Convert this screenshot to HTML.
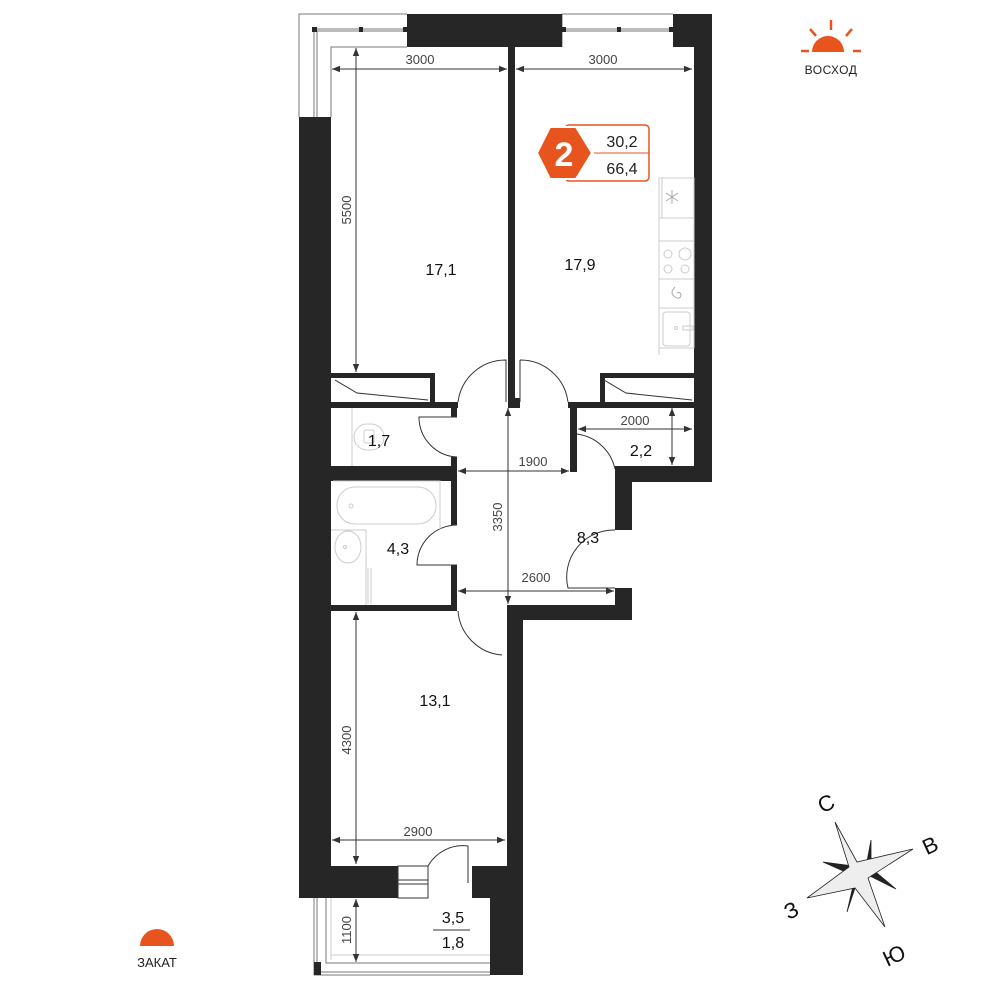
<!DOCTYPE html>
<html><head><meta charset="utf-8"><style>
html,body{margin:0;padding:0;background:#fff}
svg{display:block}
text{font-family:"Liberation Sans",sans-serif}
</style></head><body>
<svg width="991" height="991" viewBox="0 0 991 991" xmlns="http://www.w3.org/2000/svg">
<defs>
<marker id="a" viewBox="0 0 10 10" refX="10" refY="5" markerWidth="8" markerHeight="8" orient="auto-start-reverse"><path d="M0,1 L10,5 L0,9 z" fill="#333"/></marker>
</defs>
<!-- top balcony frames -->
<g fill="none" stroke="#777" stroke-width="1">
<path d="M299,117 V14 H407"/>
<path d="M314,29 H407 M314,29 V117 M317,31 H407 M317,31 V117 M331,117 V47 H407"/>
<path d="M562,47 V14 H673 M562,29 H673 M562,31 H673"/>
<!-- bottom balcony -->
<path d="M314,898 V975 H490 M317,898 V972 H490 M326,898 V963 H490"/>
</g>
<!-- walls -->
<g fill="#262626">
<rect x="407" y="14" width="155" height="33"/>
<rect x="673" y="14" width="39" height="33"/>
<rect x="694" y="14" width="18" height="468"/>
<rect x="299" y="117" width="32" height="781"/>
<rect x="299" y="866" width="99" height="32"/>
<rect x="472" y="866" width="51" height="32"/>
<rect x="490" y="866" width="33" height="109"/>
<rect x="314" y="962" width="7" height="13"/>
<rect x="508" y="47" width="7" height="361"/>
<rect x="515" y="398" width="5" height="10"/>
<rect x="331" y="402" width="127" height="6"/>
<rect x="568" y="402" width="126" height="6"/>
<rect x="331" y="373" width="104" height="5"/>
<rect x="430" y="373" width="5" height="29"/>
<rect x="600" y="373" width="5" height="29"/>
<rect x="600" y="373" width="94" height="5"/>
<rect x="451" y="408" width="6" height="9"/>
<rect x="451" y="457" width="6" height="24"/>
<rect x="331" y="466" width="126" height="15"/>
<rect x="451" y="481" width="6" height="44"/>
<rect x="451" y="565" width="6" height="46"/>
<rect x="331" y="605" width="126" height="6"/>
<rect x="570" y="407" width="7" height="65"/>
<rect x="615" y="466" width="97" height="16"/>
<rect x="615" y="466" width="17" height="64"/>
<rect x="615" y="588" width="17" height="32"/>
<rect x="508" y="605" width="124" height="15"/>
<rect x="507" y="605" width="16" height="261"/>
</g>
<g fill="#262626"><rect x="312" y="27" width="5" height="5"/><rect x="359" y="27" width="4" height="5"/><rect x="403" y="27" width="4" height="5"/><rect x="562" y="27" width="4" height="5"/><rect x="617" y="27" width="4" height="5"/><rect x="669" y="27" width="4" height="5"/></g>
<g fill="none" stroke="#333" stroke-width="1">
<path d="M335,380 L357,393 L428,400 M604,380 L626,393 L692,400"/>
<path d="M458,402 A48,48 0 0 1 506,360 V402"/>
<path d="M520,360 A48,48 0 0 1 568,402 M520,360 V402"/>
<path d="M457,417 H419 A40,40 0 0 0 457,457"/>
<path d="M457,565 H417 A40,40 0 0 1 457,525"/>
<path d="M577,434 A45,45 0 0 1 615,469"/>
<path d="M615,530 A47,47 0 0 0 568,588 H615"/>
<path d="M458,611 A48,48 0 0 0 502,655"/>
<path d="M428,866 A40,40 0 0 1 468,846 V883"/>
<rect x="398" y="866" width="30" height="32"/>
<path d="M398,880 H428 M398,884 H428"/>
</g>
<g fill="none" stroke="#ccc" stroke-width="1">
<rect x="659" y="178" width="35" height="170"/>
<path d="M662,178 V218 M659,218 H694 M659,241 H694 M659,279 H694 M659,308 H694 M659,348 V355"/>
<circle cx="668" cy="254" r="4"/><circle cx="685" cy="254" r="6"/><circle cx="668" cy="269" r="4"/><circle cx="685" cy="269" r="4"/>
<rect x="663" y="312" width="27" height="34" rx="3"/><circle cx="676" cy="328" r="1.5"/><rect x="683" y="326" width="10" height="4"/>
<path d="M672,190 V204 M666,193 L678,201 M678,193 L666,201" stroke="#aaa"/>
<path d="M675,287 q-6,6 0,10 q5,3 6,-2 q-1,-4 -4,-2" stroke="#aaa"/>
<path d="M352,408 V466"/>
<rect x="354" y="424" width="30" height="26" rx="13"/><rect x="364" y="430" width="10" height="13" rx="2"/>
<rect x="337" y="487" width="99" height="37" rx="18"/><circle cx="351" cy="506" r="2"/>
<path d="M333,481 H440 V530 M331,530 H366 V605"/>
<ellipse cx="348" cy="547" rx="13" ry="16"/><circle cx="345" cy="547" r="1.5"/>
<path d="M368,568 V604 M371,568 V604"/>
<path d="M331,960 V898 M331,955 H490"/>
</g>
<g stroke="#333" stroke-width="1" fill="none" marker-start="url(#a)" marker-end="url(#a)">
<line x1="332" y1="69" x2="507" y2="69"/>
<line x1="516" y1="69" x2="692" y2="69"/>
<line x1="356" y1="48" x2="356" y2="372"/>
<line x1="578" y1="429" x2="692" y2="429"/>
<line x1="672" y1="408" x2="672" y2="465"/>
<line x1="458" y1="471" x2="569" y2="471"/>
<line x1="508" y1="408" x2="508" y2="604"/>
<line x1="458" y1="591" x2="614" y2="591"/>
<line x1="356" y1="612" x2="356" y2="864"/>
<line x1="332" y1="840" x2="505" y2="840"/>
<line x1="356" y1="899" x2="356" y2="962"/>
</g>
<g font-size="13" fill="#444" text-anchor="middle">
<text x="420" y="64">3000</text><text x="603" y="64">3000</text>
<text x="635" y="425">2000</text><text x="533" y="466">1900</text><text x="536" y="582">2600</text>
<text x="418" y="836">2900</text>
<text transform="translate(351,210) rotate(-90)">5500</text>
<text transform="translate(502,517) rotate(-90)">3350</text>
<text transform="translate(351,740) rotate(-90)">4300</text>
<text transform="translate(351,930) rotate(-90)">1100</text>
</g>
<g font-size="16" fill="#111" text-anchor="middle">
<text x="441" y="275">17,1</text><text x="580" y="270">17,9</text>
<text x="379" y="446">1,7</text><text x="641" y="456">2,2</text>
<text x="398" y="554">4,3</text><text x="588" y="543">8,3</text>
<text x="435" y="706">13,1</text>
<text x="453" y="923">3,5</text><text x="453" y="948">1,8</text>
</g>
<line x1="433" y1="930" x2="470" y2="930" stroke="#333"/>
<rect x="565" y="125" width="84" height="56" rx="4" fill="#fff" stroke="#E8541E" stroke-width="1.5"/>
<line x1="594" y1="153" x2="649" y2="153" stroke="#E8541E"/>
<polygon points="550,127 576,127 592,153 576,179 550,179 537,153" fill="#E8541E" stroke="#fff" stroke-width="2"/>
<text x="564" y="166" font-size="34" font-weight="bold" fill="#fff" text-anchor="middle">2</text>
<text x="622" y="147" font-size="16" fill="#222" text-anchor="middle">30,2</text>
<text x="622" y="174" font-size="16" fill="#222" text-anchor="middle">66,4</text>
<path d="M812,52 A16,16 0 0 1 844,52 Z" fill="#E8541E"/>
<g stroke="#E8541E" stroke-width="2.5"><line x1="831" y1="20" x2="831" y2="30"/><line x1="810" y1="29" x2="816" y2="36"/><line x1="852" y1="29" x2="846" y2="36"/><line x1="801" y1="51" x2="809" y2="51"/><line x1="853" y1="51" x2="861" y2="51"/></g>
<text x="831" y="74" font-size="12" fill="#222" text-anchor="middle" letter-spacing="0.5">ВОСХОД</text>
<path d="M140,946 A17,17 0 0 1 174,946 Z" fill="#E8541E"/>
<text x="157" y="967" font-size="13" fill="#222" text-anchor="middle">ЗАКАТ</text>
<g stroke="#222" stroke-width="0.8" stroke-linejoin="miter">
<polygon points="871,840 866,867 857,869 847,912 859,876 866,874 896,889 871,868" fill="#222"/>
<polygon points="823,862 853,866 857,877" fill="#222"/>
<polygon points="835,822 857,862 913,849 868,878 885,927 855,888 807,898 849,867" fill="#eee"/>
</g>
<g font-size="22" fill="#111" text-anchor="middle">
<text x="826" y="811" transform="rotate(-25 826 803)">С</text>
<text x="930" y="853" transform="rotate(-25 930 845)">В</text>
<text x="791" y="918" transform="rotate(-25 791 910)">З</text>
<text x="894" y="963" transform="rotate(-25 894 955)">Ю</text>
</g>
</svg>
</body></html>
